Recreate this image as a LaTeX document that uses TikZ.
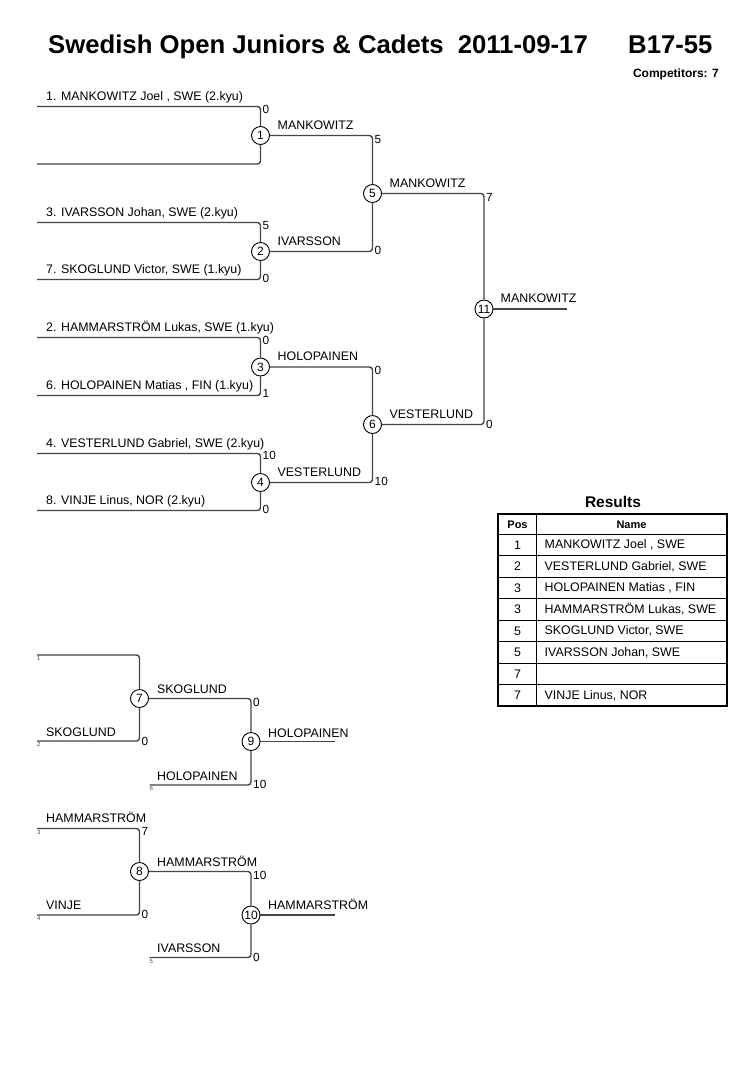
\documentclass[tikz,border=0pt]{standalone}
\usepackage{fontspec}
\setmainfont{Liberation Sans}
\newcommand\fsz[1]{\fontsize{#1}{#1}\selectfont}
\definecolor{brline}{HTML}{454545}
\definecolor{tinyc}{HTML}{5A4A30}
\tikzset{
  brk/.style={draw=brline, line width=1.4pt, rounded corners=3pt},
  mnode/.style={circle, draw=black, fill=white, line width=0.9pt, minimum size=18pt, inner sep=0pt, font=\fsz{12}},
  nm/.style={anchor=base west, inner sep=0pt, font=\fsz{12.4}},
  sc/.style={anchor=west, inner sep=0pt, font=\fsz{11.8}},
  tiny/.style={anchor=north west, inner sep=0pt, font=\fsz{6}, text=tinyc},
  tcell/.style={anchor=center, inner sep=0pt, font=\fsz{12.4}},
  tname/.style={anchor=west, inner sep=0pt, font=\fsz{12.4}},
  thead/.style={anchor=center, inner sep=0pt, font=\bfseries\fsz{11}},
}
\begin{document}
\begin{tikzpicture}[x=1pt,y=-1pt]
\useasboundingbox[fill=white] (0,0) rectangle (755,1069);

% ---- title ----
\node[anchor=base west, inner sep=0pt, font=\bfseries\fsz{25.7}] (title) at (48,53) {Swedish Open Juniors \& Cadets\hspace{14pt}2011-09-17};
\node[anchor=base west, inner sep=0pt, font=\bfseries\fsz{25.7}] (cat) at (628,53) {B17-55};
\node[anchor=base east, inner sep=0pt, font=\bfseries\fsz{12}] (comp) at (719,77) {Competitors: 7};

% ---- main bracket nodes ----
\node[mnode] (m1) at (260.5,135.5) {1};
\node[mnode] (m2) at (260.5,251.5) {2};
\node[mnode] (m3) at (260.5,367) {3};
\node[mnode] (m4) at (260.5,482.5) {4};
\node[mnode] (m5) at (372.5,193.5) {5};
\node[mnode] (m6) at (372.5,424.5) {6};
\node[mnode] (m11) at (484,309) {11};

\coordinate (a1) at (37,106.5);
\coordinate (b1) at (37,164);
\coordinate (a2) at (37,222.5);
\coordinate (b2) at (37,279.5);
\coordinate (a3) at (37,337.5);
\coordinate (b3) at (37,395.5);
\coordinate (a4) at (37,453.5);
\coordinate (b4) at (37,510.5);
\coordinate (w11) at (567,309);

\draw[brk] (a1) -| (m1.north);
\draw[brk] (b1) -| (m1.south);
\draw[brk] (a2) -| (m2.north);
\draw[brk] (b2) -| (m2.south);
\draw[brk] (a3) -| (m3.north);
\draw[brk] (b3) -| (m3.south);
\draw[brk] (a4) -| (m4.north);
\draw[brk] (b4) -| (m4.south);
\draw[brk] (m1.east) -| (m5.north);
\draw[brk] (m2.east) -| (m5.south);
\draw[brk] (m3.east) -| (m6.north);
\draw[brk] (m4.east) -| (m6.south);
\draw[brk] (m5.east) -| (m11.north);
\draw[brk] (m6.east) -| (m11.south);
\draw[brk] (m11.east) -- (w11);

% competitor names
\node[nm] (n1) at (46,100) {1. MANKOWITZ Joel , SWE (2.kyu)};
\node[nm] (n3) at (46,216) {3. IVARSSON Johan, SWE (2.kyu)};
\node[nm] (n7) at (46,273) {7. SKOGLUND Victor, SWE (1.kyu)};
\node[nm] (n2) at (46,331) {2. HAMMARSTRÖM Lukas, SWE (1.kyu)};
\node[nm] (n6) at (46,389) {6. HOLOPAINEN Matias , FIN (1.kyu)};
\node[nm] (n4) at (46,447) {4. VESTERLUND Gabriel, SWE (2.kyu)};
\node[nm] (n8) at (46,504) {8. VINJE Linus, NOR (2.kyu)};

% winner labels
\node[nm] (w1) at (277.5,129) {MANKOWITZ};
\node[nm] (w2) at (277.5,245) {IVARSSON};
\node[nm] (w3) at (277.5,360.5) {HOLOPAINEN};
\node[nm] (w4) at (277.5,476) {VESTERLUND};
\node[nm] (w5) at (389.5,187) {MANKOWITZ};
\node[nm] (w6) at (389.5,418) {VESTERLUND};
\node[nm] (w11l) at (500.5,302.5) {MANKOWITZ};

% scores
\node[sc] (s1a) at (262.5,109) {0};
\node[sc] (s2a) at (262.5,225) {5};
\node[sc] (s2b) at (262.5,278) {0};
\node[sc] (s3a) at (262.5,340) {0};
\node[sc] (s3b) at (262.5,393) {1};
\node[sc] (s4a) at (262.5,455.5) {10};
\node[sc] (s4b) at (262.5,509) {0};
\node[sc] (s5a) at (374.5,139.5) {5};
\node[sc] (s5b) at (374.5,250.5) {0};
\node[sc] (s6a) at (374.5,370) {0};
\node[sc] (s6b) at (374.5,481.5) {10};
\node[sc] (s11a) at (486,197) {7};
\node[sc] (s11b) at (486,424) {0};

% ---- results table ----
\node[anchor=base, inner sep=0pt, font=\bfseries\fsz{15.5}] (res) at (613,507) {Results};
\draw[black, line width=0.8pt]
  (498,534) -- (727,534)
  (498,555.5) -- (727,555.5)
  (498,577) -- (727,577)
  (498,598.5) -- (727,598.5)
  (498,620) -- (727,620)
  (498,641.5) -- (727,641.5)
  (498,663) -- (727,663)
  (498,684.5) -- (727,684.5)
  (536.5,514) -- (536.5,706);
\draw[black, line width=1.6pt] (498,514) rectangle (727,706);
\node[thead] (hpos) at (517.5,524.5) {Pos};
\node[thead] (hname) at (631.5,524.5) {Name};
\node[tcell] (p1) at (517.5,545) {1};
\node[tcell] (p2) at (517.5,566.5) {2};
\node[tcell] (p3) at (517.5,588) {3};
\node[tcell] (p4) at (517.5,609.5) {3};
\node[tcell] (p5) at (517.5,631) {5};
\node[tcell] (p6) at (517.5,652.5) {5};
\node[tcell] (p7) at (517.5,674) {7};
\node[tcell] (p8) at (517.5,695.5) {7};
\node[tname] (r1) at (544.5,545) {MANKOWITZ Joel , SWE};
\node[tname] (r2) at (544.5,566.5) {VESTERLUND Gabriel, SWE};
\node[tname] (r3) at (544.5,588) {HOLOPAINEN Matias , FIN};
\node[tname] (r4) at (544.5,609.5) {HAMMARSTRÖM Lukas, SWE};
\node[tname] (r5) at (544.5,631) {SKOGLUND Victor, SWE};
\node[tname] (r6) at (544.5,652.5) {IVARSSON Johan, SWE};
\node[tname] (r8) at (544.5,695.5) {VINJE Linus, NOR};

% ---- repechage ----
\node[mnode] (m7) at (139.5,698.5) {7};
\node[mnode] (m9) at (251,741.5) {9};
\node[mnode] (m8) at (139.5,871.5) {8};
\node[mnode] (m10) at (251,915) {10};

\coordinate (r7a) at (37,655);
\coordinate (r7b) at (37,741);
\coordinate (r9b) at (149.5,785);
\coordinate (w9) at (335,741.5);
\coordinate (r8a) at (37,828.5);
\coordinate (r8b) at (37,915);
\coordinate (r10b) at (149.5,957.5);
\coordinate (w10) at (335,915);

\draw[brk] (r7a) -| (m7.north);
\draw[brk] (r7b) -| (m7.south);
\draw[brk] (m7.east) -| (m9.north);
\draw[brk] (r9b) -| (m9.south);
\draw[brk] (m9.east) -- (w9);
\draw[brk] (r8a) -| (m8.north);
\draw[brk] (r8b) -| (m8.south);
\draw[brk] (m8.east) -| (m10.north);
\draw[brk] (r10b) -| (m10.south);
\draw[brk] (m10.east) -- (w10);

\node[tiny] (t1) at (37,656.5) {1};
\node[tiny] (t2) at (37,742.5) {2};
\node[tiny] (t6) at (149.5,786.5) {6};
\node[tiny] (t3) at (37,830) {3};
\node[tiny] (t4) at (37,916.5) {4};
\node[tiny] (t5) at (149.5,959) {5};

\node[nm] (q7b) at (46,736.5) {SKOGLUND};
\node[nm] (q7w) at (157,693.5) {SKOGLUND};
\node[nm] (q9b) at (157,780) {HOLOPAINEN};
\node[nm] (q9w) at (268,737) {HOLOPAINEN};
\node[nm] (q8a) at (46,822.5) {HAMMARSTRÖM};
\node[nm] (q8b) at (46,909.5) {VINJE};
\node[nm] (q8w) at (157,866) {HAMMARSTRÖM};
\node[nm] (q10b) at (157,952) {IVARSSON};
\node[nm] (q10w) at (268,909.5) {HAMMARSTRÖM};

\node[sc] (z7b) at (141.5,741) {0};
\node[sc] (z9a) at (253,702) {0};
\node[sc] (z9b) at (253,784.5) {10};
\node[sc] (z8a) at (141.5,831) {7};
\node[sc] (z8b) at (141.5,914.5) {0};
\node[sc] (z10a) at (253,875.5) {10};
\node[sc] (z10b) at (253,957.5) {0};
\end{tikzpicture}
\end{document}
